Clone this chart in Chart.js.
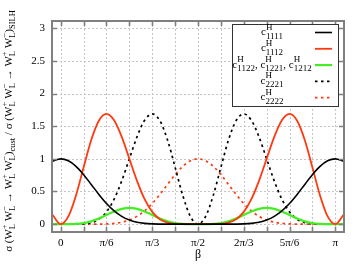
<!DOCTYPE html>
<html><head><meta charset="utf-8">
<script src="https://cdn.jsdelivr.net/npm/chart.js@4.4.0/dist/chart.umd.min.js"></script>
<style>html,body{margin:0;padding:0;background:#fff;}#wrap{width:364px;height:265px;position:relative;}</style>
</head><body><div id="wrap"><canvas id="c" width="364" height="265"></canvas></div>
<script>
// β in degrees (axis shown in multiples of π)
const beta = [-5.73, 0,5,10,15,20,25,30,35,40,45,50,55,60,65,70,75,80,85,90,
  95,100,105,110,115,120,125,130,135,140,145,150,155,160,165,170,175,180, 185.73];
const c1111 = [0.961, 1,0.970,0.885,0.758,0.608,0.455,0.316,0.203,0.119,0.063,0.029,0.012,0.004,0.001,0,0,0,0,0,
  0,0,0,0,0.001,0.004,0.012,0.029,0.063,0.119,0.203,0.316,0.455,0.608,0.758,0.885,0.970,1, 0.961];
const c1112 = [0.154, 0,0.119,0.440,0.871,1.289,1.584,1.688,1.590,1.336,1.000,0.662,0.382,0.188,0.075,0.023,0.004,0,0,0,
  0,0,0.004,0.023,0.075,0.188,0.382,0.662,1.000,1.336,1.590,1.688,1.584,1.289,0.871,0.440,0.119,0, 0.154];
const c1122 = [0, 0,0,0.003,0.016,0.043,0.086,0.141,0.195,0.235,0.250,0.235,0.195,0.141,0.086,0.043,0.016,0.003,0,0,
  0,0.003,0.016,0.043,0.086,0.141,0.195,0.235,0.250,0.235,0.195,0.141,0.086,0.043,0.016,0.003,0,0, 0];
const c2221 = [0, 0,0,0,0.004,0.023,0.075,0.188,0.382,0.662,1.000,1.336,1.590,1.688,1.584,1.289,0.871,0.440,0.119,0,
  0.119,0.440,0.871,1.289,1.584,1.688,1.590,1.336,1.000,0.662,0.382,0.188,0.075,0.023,0.004,0,0,0, 0];
const c2222 = [0, 0,0,0,0,0,0.001,0.004,0.012,0.029,0.063,0.119,0.203,0.316,0.455,0.608,0.758,0.885,0.970,1,
  0.970,0.885,0.758,0.608,0.455,0.316,0.203,0.119,0.063,0.029,0.012,0.004,0.001,0,0,0,0,0, 0];
const xTickVals = [0,15,30,45,60,75,90,105,120,135,150,165,180];
const xTickLabels = ['0','π/6','π/3','π/2','2π/3','5π/6','π'];
const yTickVals = [0,0.5,1,1.5,2,2.5,3];
const seriesNames = ['c1111','c1112','c1122, c1221, c1212','c2221','c2222'];

const RED = '#ff3a10', GREEN = '#44ee22', BLACK = '#000000';
const SERIF = '"Liberation Serif","DejaVu Serif",serif';
const DOT = [2.5,3.5];

function pts(arr){ return beta.map((b,i)=>({x:b, y:arr[i]})); }

function richWidth(ctx, parts, bf, sf){
  let w=0;
  for(const p of parts){
    ctx.font=bf; w+=ctx.measureText(p[0]).width;
    ctx.font=sf; w+=Math.max(p[1]?ctx.measureText(p[1]).width:0, p[2]?ctx.measureText(p[2]).width:0);
  }
  return w;
}
function drawRich(ctx, parts, x, y, bf, sf, supDy, subDy){
  let cx=x; ctx.textAlign='left'; ctx.textBaseline='alphabetic';
  for(const p of parts){
    ctx.font=bf; ctx.fillText(p[0],cx,y); cx+=ctx.measureText(p[0]).width;
    ctx.font=sf;
    const w1=p[1]?ctx.measureText(p[1]).width:0, w2=p[2]?ctx.measureText(p[2]).width:0;
    if(p[1]) ctx.fillText(p[1],cx,y+supDy);
    if(p[2]) ctx.fillText(p[2],cx,y+subDy);
    cx+=Math.max(w1,w2);
  }
}
const yTitleParts = [['σ (W','+','L'],[' W','−','L'],[' → W','+','L'],[' W','−','L'],[')','','cust'],
  [' / σ (W','+','L'],[' W','−','L'],[' → W','+','L'],[' W','−','L'],[')','','SILH']];
function legendParts(name){
  return name.split(', ').map((s,i)=>[(i?', ':'')+'c','H',s.slice(1)]);
}
const legendStyles = [
  {color:BLACK, dash:[], w:1.6},
  {color:RED, dash:[], w:1.8},
  {color:GREEN, dash:[], w:2.2},
  {color:BLACK, dash:DOT, w:1.7},
  {color:RED, dash:DOT, w:1.7}
];

const deco = {
  id:'deco',
  beforeDatasetsDraw(chart){
    const {ctx, chartArea:a, scales:{x,y}} = chart;
    ctx.save();
    ctx.strokeStyle='#c6c6c6'; ctx.lineWidth=1; ctx.setLineDash([2,2]);
    ctx.beginPath();
    xTickVals.forEach(v=>{const px=Math.round(x.getPixelForValue(v))+0.5; ctx.moveTo(px,a.top); ctx.lineTo(px,a.bottom);});
    yTickVals.forEach(v=>{const py=Math.round(y.getPixelForValue(v))+0.5; ctx.moveTo(a.left,py); ctx.lineTo(a.right,py);});
    ctx.stroke();
    ctx.restore();
  },
  afterDatasetsDraw(chart){
    const {ctx, chartArea:a, scales:{x,y}} = chart;
    ctx.save();
    ctx.strokeStyle='#808080'; ctx.lineWidth=1.6; ctx.setLineDash([]);
    ctx.beginPath();
    const T=5;
    xTickVals.forEach(v=>{const px=Math.round(x.getPixelForValue(v))+0.5;
      ctx.moveTo(px,a.bottom); ctx.lineTo(px,a.bottom-T); ctx.moveTo(px,a.top); ctx.lineTo(px,a.top+T);});
    yTickVals.forEach(v=>{const py=Math.round(y.getPixelForValue(v))+0.5;
      ctx.moveTo(a.left,py); ctx.lineTo(a.left+T,py); ctx.moveTo(a.right,py); ctx.lineTo(a.right-T,py);});
    ctx.stroke();
    ctx.lineWidth=2;
    ctx.strokeRect(a.left, a.top, a.right-a.left, a.bottom-a.top);
    ctx.restore();
  },
  afterDraw(chart){
    const {ctx, chartArea:a} = chart;
    ctx.save();
    // legend box
    const bx=232, by=24, bw=106, bh=82;
    ctx.fillStyle='#fff'; ctx.fillRect(bx,by,bw,bh);
    ctx.strokeStyle='#333'; ctx.lineWidth=1; ctx.strokeRect(bx+0.5,by+0.5,bw,bh);
    const bf='11px '+SERIF, sf='9px '+SERIF;
    seriesNames.forEach((n,i)=>{
      const ry = 32.5 + i*16.3;
      const parts = legendParts(n);
      const w = richWidth(ctx, parts, bf, sf);
      ctx.fillStyle='#000';
      drawRich(ctx, parts, 272 - w/2, ry+2.5, bf, sf, -5.5, 3.5);
      const st = legendStyles[i];
      ctx.strokeStyle=st.color; ctx.lineWidth=st.w; ctx.setLineDash(st.dash);
      ctx.beginPath(); ctx.moveTo(315, ry); ctx.lineTo(332, ry); ctx.stroke();
      ctx.setLineDash([]);
    });
    // y title
    ctx.fillStyle='#000';
    const tbf='11px '+SERIF, tsf='8.5px '+SERIF;
    const tw = richWidth(ctx, yTitleParts, tbf, tsf);
    ctx.translate(12, 131); ctx.rotate(-Math.PI/2);
    drawRich(ctx, yTitleParts, -tw/2, 0, tbf, tsf, -5, 3);
    ctx.restore();
    // x title
    ctx.save();
    ctx.fillStyle='#000'; ctx.font='12px '+SERIF; ctx.textAlign='center'; ctx.textBaseline='middle';
    ctx.fillText('β', (a.left+a.right)/2, 255);
    ctx.restore();
  }
};

function ds(data, color, width, dash){
  return {data:pts(data), borderColor:color, borderWidth:width, borderDash:dash, pointRadius:0,
    fill:false, cubicInterpolationMode:'monotone', tension:0.4};
}

new Chart(document.getElementById('c'), {
  type:'line',
  data:{datasets:[
    ds(c1111, BLACK, 1.6, []),
    ds(c1112, RED, 1.8, []),
    ds(c1122, GREEN, 2.2, []),
    ds(c2221, BLACK, 1.7, DOT),
    ds(c2222, RED, 1.7, DOT)
  ]},
  options:{
    responsive:false, animation:false, devicePixelRatio:1,
    layout:{padding:{top:21,right:20,left:0,bottom:0}},
    plugins:{legend:{display:false}, tooltip:{enabled:false}},
    scales:{
      x:{type:'linear', min:-5.73, max:185.73,
        afterBuildTicks:s=>{s.ticks=xTickVals.map(v=>({value:v}));},
        afterFit:s=>{s.height=33;},
        grid:{display:false, drawTicks:false}, border:{display:false},
        ticks:{autoSkip:false, maxRotation:0, padding:5, color:'#000',
          font:{family:SERIF, size:11},
          callback:v=> (v%30===0) ? xTickLabels[v/30] : ''}},
      y:{type:'linear', min:-0.12, max:3.11,
        afterBuildTicks:s=>{s.ticks=yTickVals.map(v=>({value:v}));},
        afterFit:s=>{s.width=52;},
        grid:{display:false, drawTicks:false}, border:{display:false},
        ticks:{padding:7, color:'#000', font:{family:SERIF, size:11},
          callback:v=>String(v)}}
    }
  },
  plugins:[deco]
});
</script></body></html>
